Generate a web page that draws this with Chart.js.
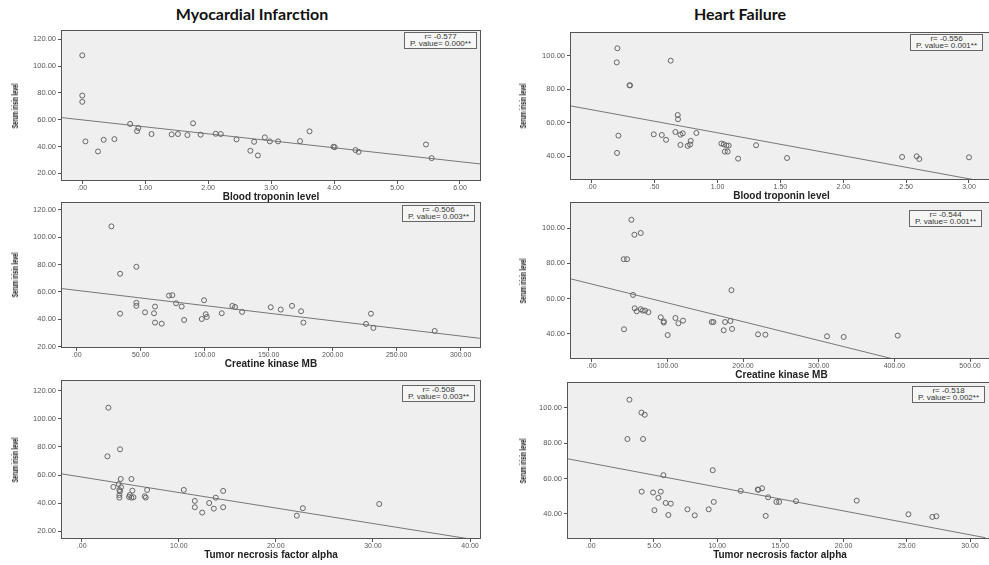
<!DOCTYPE html>
<html>
<head>
<meta charset="utf-8">
<script src="https://cdn.jsdelivr.net/npm/chart.js@4.4.1/dist/chart.umd.min.js"></script>
<style>
  html, body { margin: 0; padding: 0; background: #fff; overflow: hidden; width: 989px; height: 565px; }
  .group-title { position: absolute; top: 4px; width: 300px; line-height: 20px; text-align: center;
                 font: 700 16px Lato, 'Open Sans', sans-serif; color: #111; }
  .stats { position: absolute; border: 1px solid #666; background: #f6f6f6; color: #333;
           font: 8px 'Liberation Sans', Arial, sans-serif; line-height: 6.5px; text-align: center;
           padding: 1px 5px 1px 5px; white-space: nowrap; }
  .ytitle { position: absolute; white-space: nowrap; color: #111;
            font: 700 9px 'Liberation Sans', Arial, sans-serif;
            transform: translate(-50%, -50%) rotate(-90deg) scaleX(0.6); }
</style>
</head>
<body>
<div class="group-title" style="left:102px">Myocardial Infarction</div>
<div class="group-title" style="left:590px">Heart Failure</div>

<script>
// --- Myocardial infarction: blood troponin ---
const miTropX = [0.00, 0.00, 0.00, 0.05, 0.25, 0.34, 0.51, 0.76, 0.89, 0.87, 1.10, 1.42, 1.52, 1.67, 1.76, 1.88,
                 2.12, 2.20, 2.45, 2.67, 2.73, 2.79, 2.90, 2.98, 3.11, 3.46, 3.61, 3.99, 4.01, 4.34, 4.39, 5.46, 5.55];
const miTropY = [108.0, 78.0, 73.3, 43.8, 36.3, 45.0, 45.5, 56.8, 53.8, 51.5, 49.3, 49.0, 49.3, 48.5, 57.3, 48.8,
                 49.5, 49.3, 45.3, 36.8, 43.5, 33.3, 46.8, 43.8, 43.8, 44.0, 51.3, 39.8, 39.5, 37.3, 36.0, 41.5, 31.3];
const miTropFit = { x: [-0.32, 6.32], y: [61.5, 27.0] };

// --- Heart failure: blood troponin ---
const hfTropX = [0.204, 0.199, 0.300, 0.305, 0.628, 0.212, 0.201, 0.493, 0.557, 0.591, 0.665, 0.684, 0.686, 0.705,
                 0.724, 0.705, 0.763, 0.782, 0.787, 0.832, 1.031, 1.050, 1.071, 1.089, 1.058, 1.081, 1.164, 1.307,
                 1.553, 2.468, 2.584, 2.605, 3.000];
const hfTropY = [104.4, 96.0, 82.3, 82.3, 97.0, 52.3, 42.0, 53.1, 52.7, 49.8, 54.5, 64.6, 62.1, 52.9,
                 53.7, 46.8, 46.2, 47.0, 49.2, 53.9, 47.6, 47.2, 46.4, 46.4, 42.8, 42.8, 38.6, 46.6,
                 39.0, 39.6, 40.0, 38.4, 39.4];
const hfTropFit = { x: [-0.165, 3.05], y: [70.0, 25.9] };

// --- Myocardial infarction: creatine kinase MB ---
const miCkX = [27.1, 33.9, 33.9, 46.6, 46.6, 46.6, 53.4, 60.4, 61.2, 61.2, 66.4, 72.1, 74.7, 77.6, 82.0, 83.9,
               97.7, 99.5, 100.8, 101.6, 113.3, 121.6, 123.7, 129.2, 151.6, 159.4, 168.2, 175.3, 177.1, 226.0,
               229.9, 231.8, 279.7];
const miCkY = [107.8, 73.2, 44.1, 78.3, 52.0, 49.8, 45.1, 44.4, 49.3, 37.6, 36.8, 57.3, 57.6, 51.7, 49.3, 39.5,
               40.2, 53.9, 43.7, 41.7, 44.4, 49.8, 49.0, 45.4, 48.8, 47.1, 49.8, 45.9, 37.6, 36.6,
               44.1, 33.7, 31.5];
const miCkFit = { x: [-11.5, 315], y: [62.4, 26.1] };

// --- Heart failure: creatine kinase MB ---
const hfCkX = [52.4, 56.4, 64.8, 42.3, 46.7, 54.6, 56.8, 59.5, 64.8, 67.4, 70.5, 74.9, 42.7, 91.2, 95.2, 95.2,
               100.4, 110.6, 114.5, 120.7, 158.6, 160.8, 176.2, 174.4, 183.3, 184.6, 185.5, 219.8, 229.5, 311.0,
               333.0, 404.4];
const hfCkY = [104.7, 96.2, 97.2, 82.3, 82.3, 62.0, 54.4, 52.7, 53.9, 53.1, 53.1, 52.2, 42.5, 49.3, 47.0, 46.3,
               39.2, 48.9, 45.9, 47.4, 46.6, 46.6, 46.6, 41.9, 47.2, 64.7, 42.7, 39.6, 39.4, 38.5,
               38.1, 38.9];
const hfCkFit = { x: [-27.4, 398.7], y: [71.1, 25.6] };

// --- Myocardial infarction: TNF alpha ---
const miTnfX = [2.75, 2.65, 3.95, 4.02, 5.12, 3.26, 3.81, 4.05, 3.88, 3.95, 3.88, 3.88, 4.95, 5.22, 5.12, 4.88,
                5.33, 6.49, 6.60, 6.74, 10.52, 11.65, 11.65, 12.41, 13.13, 13.61, 13.81, 14.57, 14.57, 22.16,
                22.78, 30.65];
const miTnfY = [107.9, 73.3, 78.3, 57.2, 57.2, 51.5, 53.6, 51.3, 49.4, 48.4, 45.8, 43.9, 45.8, 48.9, 43.9, 44.4,
                44.2, 44.9, 43.9, 49.4, 49.4, 41.6, 37.1, 33.3, 40.1, 36.1, 43.9, 37.1, 48.7, 31.1,
                36.4, 39.4];
const miTnfFit = { x: [-2.03, 40.0], y: [60.8, 14.5] };

// --- Heart failure: TNF alpha ---
const hfTnfX = [3.06, 4.01, 4.27, 2.90, 4.14, 5.75, 9.65, 4.03, 4.93, 5.54, 5.35, 5.93, 6.33, 5.04, 6.14, 7.65,
                8.23, 9.33, 9.73, 11.86, 13.21, 13.26, 13.55, 14.03, 13.84, 14.68, 14.90, 16.24, 21.04, 25.13,
                27.02, 27.34];
const hfTnfY = [104.5, 97.2, 96.0, 82.3, 82.3, 61.9, 64.7, 52.6, 52.1, 52.6, 49.1, 46.2, 45.8, 42.1, 39.4, 42.6,
                39.2, 42.6, 46.8, 53.0, 53.8, 53.6, 54.5, 49.4, 38.9, 46.8, 46.8, 47.2, 47.5, 39.8,
                38.3, 38.7];
const hfTnfFit = { x: [-1.8, 31.2], y: [71.1, 26.6] };

// tick values and labels
const yTicksFull = [20, 40, 60, 80, 100, 120];
const yLabelsFull = ['20.00', '40.00', '60.00', '80.00', '100.00', '120.00'];
const yTicksShort = [40, 60, 80, 100];
const yLabelsShort = ['40.00', '60.00', '80.00', '100.00'];
const miTropTicks = [0, 1, 2, 3, 4, 5, 6];
const miTropLabels = ['.00', '1.00', '2.00', '3.00', '4.00', '5.00', '6.00'];
const hfTropTicks = [0, 0.5, 1, 1.5, 2, 2.5, 3];
const hfTropLabels = ['.00', '.50', '1.00', '1.50', '2.00', '2.50', '3.00'];
const miCkTicks = [0, 50, 100, 150, 200, 250, 300];
const miCkLabels = ['.00', '50.00', '100.00', '150.00', '200.00', '250.00', '300.00'];
const hfCkTicks = [0, 100, 200, 300, 400, 500];
const hfCkLabels = ['.00', '100.00', '200.00', '300.00', '400.00', '500.00'];
const miTnfTicks = [0, 10, 20, 30, 40];
const miTnfLabels = ['.00', '10.00', '20.00', '30.00', '40.00'];
const hfTnfTicks = [0, 5, 10, 15, 20, 25, 30];
const hfTnfLabels = ['.00', '5.00', '10.00', '15.00', '20.00', '25.00', '30.00'];

const yTitle = 'Serum irisin level';

// area = [left, top, right, bottom] of the plot box on the page
const panels = [
  { xs: miTropX, ys: miTropY, fit: miTropFit, xt: miTropTicks, xl: miTropLabels, yt: yTicksFull, yl: yLabelsFull,
    xr: [-0.322, 6.318], yr: [14.25, 126.9], area: [62, 30, 480, 181], xTitle: 'Blood troponin level',
    r: '-0.577', p: '0.000**', box: [477, 32] },
  { xs: hfTropX, ys: hfTropY, fit: hfTropFit, xt: hfTropTicks, xl: hfTropLabels, yt: yTicksShort, yl: yLabelsShort,
    xr: [-0.165, 3.183], yr: [25.87, 114.1], area: [571, 32, 992, 180], xTitle: 'Blood troponin level',
    r: '-0.556', p: '0.001**', box: [983, 34] },
  { xs: miCkX, ys: miCkY, fit: miCkFit, xt: miCkTicks, xl: miCkLabels, yt: yTicksFull, yl: yLabelsFull,
    xr: [-11.5, 315.1], yr: [19.05, 125.6], area: [62, 202, 480, 348], xTitle: 'Creatine kinase MB',
    r: '-0.506', p: '0.003**', box: [475, 205] },
  { xs: hfCkX, ys: hfCkY, fit: hfCkFit, xt: hfCkTicks, xl: hfCkLabels, yt: yTicksShort, yl: yLabelsShort,
    xr: [-27.4, 529], yr: [25.6, 114.8], area: [571, 202, 992, 359], xTitle: 'Creatine kinase MB',
    r: '-0.544', p: '0.001**', box: [982, 210] },
  { xs: miTnfX, ys: miTnfY, fit: miTnfFit, xt: miTnfTicks, xl: miTnfLabels, yt: yTicksFull, yl: yLabelsFull,
    xr: [-2.03, 41.03], yr: [14.5, 127.6], area: [62, 380, 480, 539], xTitle: 'Tumor necrosis factor alpha',
    r: '-0.508', p: '0.003**', box: [475, 385] },
  { xs: hfTnfX, ys: hfTnfY, fit: hfTnfFit, xt: hfTnfTicks, xl: hfTnfLabels, yt: yTicksShort, yl: yLabelsShort,
    xr: [-1.8, 31.74], yr: [25.85, 114.5], area: [568, 382, 992, 539], xTitle: 'Tumor necrosis factor alpha',
    r: '-0.518', p: '0.002**', box: [985, 386] }
];

Chart.defaults.font.family = "'Liberation Sans', Arial, sans-serif";
Chart.defaults.color = '#555';

// grey plot background and the box round the plot
const framePlugin = {
  id: 'frame',
  beforeDraw(chart) {
    const a = chart.chartArea, ctx = chart.ctx;
    ctx.save();
    ctx.fillStyle = '#efefef';
    ctx.fillRect(a.left, a.top, a.right - a.left, a.bottom - a.top);
    ctx.restore();
  },
  afterDatasetsDraw(chart) {
    const a = chart.chartArea, ctx = chart.ctx;
    ctx.save();
    ctx.strokeStyle = '#555';
    ctx.lineWidth = 1;
    ctx.strokeRect(Math.round(a.left) - 0.5, Math.round(a.top) + 0.5,
                   Math.round(a.right - a.left) + 1, Math.round(a.bottom - a.top) - 1);
    ctx.restore();
  }
};

panels.forEach(p => {
  const [L, T, R, B] = p.area;
  const left = L < 300;
  const cx = left ? 0 : 508;
  const cw = (left ? 490 : 996) - cx;
  const cy = T - 8;
  const ch = B + 24 - cy;

  const canvas = document.createElement('canvas');
  canvas.width = cw;
  canvas.height = ch;
  canvas.style.cssText = `position:absolute;left:${cx}px;top:${cy}px;width:${cw}px;height:${ch}px`;
  document.body.appendChild(canvas);

  new Chart(canvas, {
    type: 'scatter',
    data: {
      datasets: [
        {
          data: p.xs.map((x, i) => ({ x: x, y: p.ys[i] })),
          pointStyle: 'circle',
          pointRadius: 2.5,
          pointBorderWidth: 1,
          pointBorderColor: '#666',
          pointBackgroundColor: 'rgba(0,0,0,0)'
        },
        {
          data: p.fit.x.map((x, i) => ({ x: x, y: p.fit.y[i] })),
          showLine: true,
          borderColor: '#777',
          borderWidth: 1,
          pointRadius: 0
        }
      ]
    },
    options: {
      responsive: false,
      animation: false,
      events: [],
      layout: { autoPadding: false, padding: { left: 0, top: T - cy, right: cx + cw - R, bottom: 0 } },
      plugins: { legend: { display: false }, tooltip: { enabled: false } },
      scales: {
        x: {
          type: 'linear',
          min: p.xr[0],
          max: p.xr[1],
          afterFit: s => { s.height = ch - (B - cy); },
          afterBuildTicks: s => { s.ticks = p.xt.map(v => ({ value: v })); },
          ticks: { autoSkip: false, maxRotation: 0, padding: 0, font: { size: 7 }, color: '#555',
                   callback: (v, i) => p.xl[i] },
          grid: { drawOnChartArea: false, tickLength: 3, color: '#555' },
          border: { display: false },
          title: { display: true, text: p.xTitle, color: '#222', padding: { top: 0, bottom: 2 },
                   font: { size: 10, weight: 'bold' } }
        },
        y: {
          type: 'linear',
          min: p.yr[0],
          max: p.yr[1],
          afterFit: s => { s.width = L - cx; },
          afterBuildTicks: s => { s.ticks = p.yt.map(v => ({ value: v })); },
          ticks: { autoSkip: false, padding: 2, font: { size: 7.5 }, color: '#555',
                   callback: (v, i) => p.yl[i] },
          grid: { drawOnChartArea: false, tickLength: 4, color: '#555' },
          border: { display: false },
          title: { display: false }
        }
      }
    },
    plugins: [framePlugin]
  });

  // rotated y axis title, narrow and bold as in the original
  const yt = document.createElement('div');
  yt.className = 'ytitle';
  yt.textContent = yTitle;
  yt.style.left = (cx + 15) + 'px';
  yt.style.top = ((T + B) / 2) + 'px';
  document.body.appendChild(yt);

  // r / p-value box in the upper right corner
  const box = document.createElement('div');
  box.className = 'stats';
  box.innerHTML = 'r= ' + p.r + '<br>P. value= ' + p.p;
  document.body.appendChild(box);
  box.style.left = (p.box[0] - box.offsetWidth) + 'px';
  box.style.top = p.box[1] + 'px';
});
</script>
</body>
</html>
